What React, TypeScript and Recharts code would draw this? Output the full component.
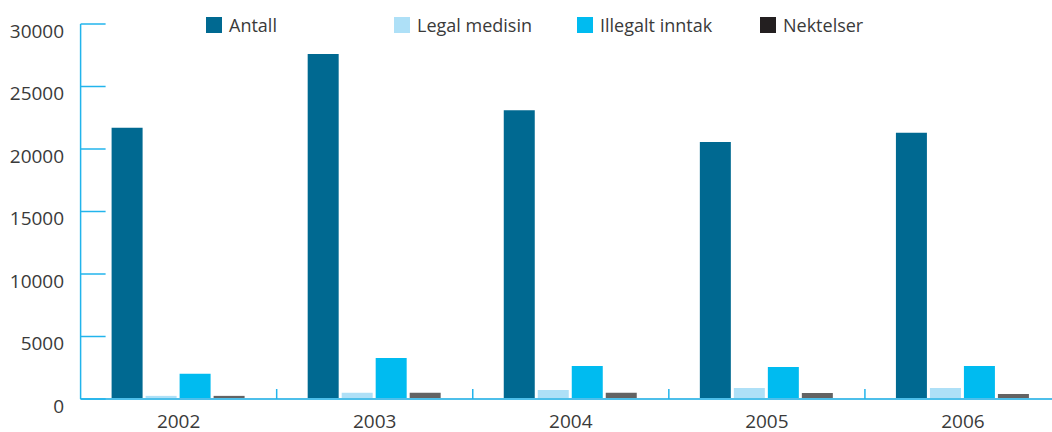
import React from "react";
import { BarChart, Bar, XAxis, YAxis } from "recharts";

const years = ["2002", "2003", "2004", "2005", "2006"];
const antall = [21700, 27600, 23100, 20560, 21300];
const legalMedisin = [250, 500, 720, 880, 880];
const illegaltInntak = [2020, 3280, 2640, 2560, 2640];
const nektelser = [250, 500, 500, 480, 400];
const yTicks = [0, 5000, 10000, 15000, 20000, 25000, 30000];

const seriesNames = ["Antall", "Legal medisin", "Illegalt inntak", "Nektelser"];
const barColors = ["#006991", "#aee0f7", "#00bbf0", "#636363"];
const legendColors = ["#006991", "#aee0f7", "#00bbf0", "#231f20"];
const seriesKeys = ["antall", "legal", "illegal", "nekt"];

const data = years.map((y, i) => ({
  year: y,
  antall: antall[i],
  legal: legalMedisin[i],
  illegal: illegaltInntak[i],
  nekt: nektelser[i],
}));

const FONT = "'Open Sans', sans-serif";
const TEXT = "#3a3a3a";
const AXIS = "#22b4ec";
const CHART_W = 1070;
const MARGIN = { top: 24, right: 9, left: 0, bottom: 0 };
const Y_W = 80.6;
const N = years.length;
const HALF_BAND = (CHART_W - MARGIN.left - MARGIN.right - Y_W) / N / 2;
const X_TICK_MARGIN = 19;
const Y_TICK_MARGIN = 16.5;
const TICK_FONT = 19;

const YTick = (props: any) => {
  const { x, y, payload } = props;
  const ax = x + Y_TICK_MARGIN;
  return (
    <g>
      <line x1={ax} x2={ax + 25} y1={y} y2={y} stroke={AXIS} strokeWidth={1.5} />
      <text x={x} y={y + 13.5} textAnchor="end" fill={TEXT} fontSize={TICK_FONT} fontFamily={FONT}>
        {payload.value}
      </text>
    </g>
  );
};

const XTick = (props: any) => {
  const { x, y, payload } = props;
  const ay = y - X_TICK_MARGIN;
  return (
    <g>
      <line x1={x + HALF_BAND} x2={x + HALF_BAND} y1={ay} y2={ay - 10} stroke={AXIS} strokeWidth={1.5} />
      <text x={x} y={y + 10} textAnchor="middle" fill={TEXT} fontSize={TICK_FONT} fontFamily={FONT}>
        {payload.value}
      </text>
    </g>
  );
};

const legendWidths = [188, 183, 183, 150];

export default function App() {
  return (
    <div
      style={{
        position: "fixed",
        left: 0,
        top: 0,
        width: 1052,
        height: 432,
        overflow: "hidden",
        background: "#fff",
      }}
    >
      <div
        style={{
          position: "absolute",
          left: 206,
          top: 17,
          display: "flex",
          fontFamily: FONT,
          fontSize: 18,
          color: TEXT,
          lineHeight: "16px",
          whiteSpace: "nowrap",
        }}
      >
        {seriesNames.map((n, i) => (
          <div key={n} style={{ width: legendWidths[i], display: "flex", alignItems: "center" }}>
            <span
              style={{
                display: "inline-block",
                width: 16,
                height: 16,
                background: legendColors[i],
                marginRight: 7,
              }}
            />
            <span>{n}</span>
          </div>
        ))}
      </div>
      <BarChart
        width={CHART_W}
        height={432}
        data={data}
        margin={MARGIN}
        barCategoryGap={31}
        barGap={3}
      >
        <XAxis
          dataKey="year"
          height={33}
          axisLine={{ stroke: "#4dbfea", strokeWidth: 2 }}
          tickLine={false}
          tickSize={0}
          tickMargin={X_TICK_MARGIN}
          tick={<XTick />}
          interval={0}
        />
        <YAxis
          width={Y_W}
          domain={[0, 30000]}
          ticks={yTicks}
          axisLine={{ stroke: AXIS, strokeWidth: 1.5 }}
          tickLine={false}
          tickSize={0}
          tickMargin={Y_TICK_MARGIN}
          tick={<YTick />}
          interval={0}
        />
        {seriesKeys.map((k, i) => (
          <Bar key={k} dataKey={k} name={seriesNames[i]} fill={barColors[i]} isAnimationActive={false} />
        ))}
      </BarChart>
    </div>
  );
}
